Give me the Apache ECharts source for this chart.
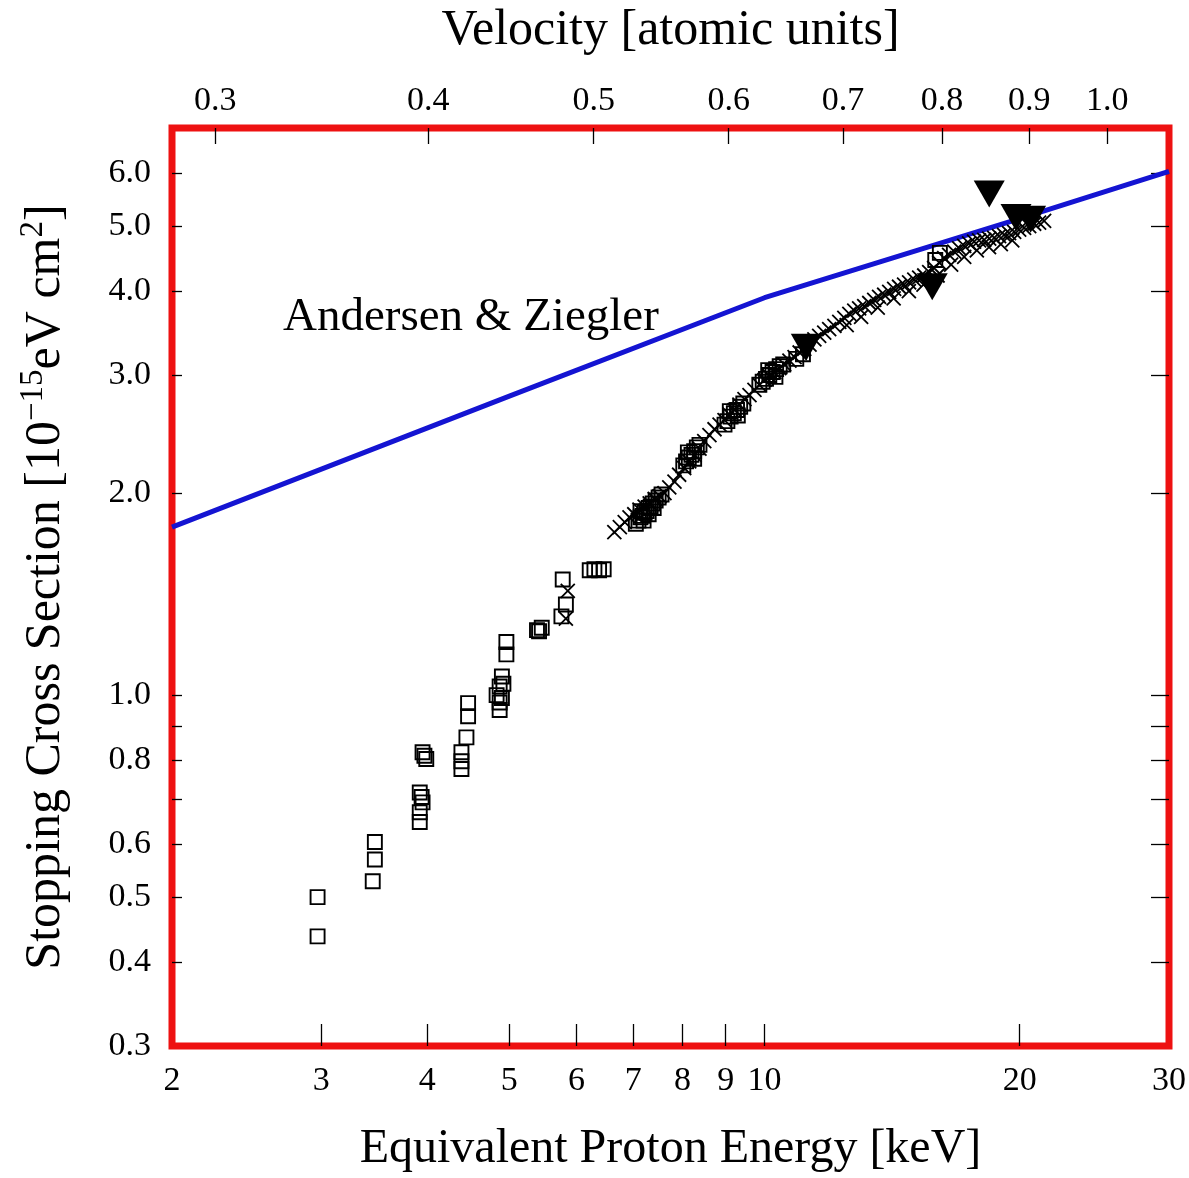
<!DOCTYPE html>
<html><head><meta charset="utf-8">
<script src="https://cdn.jsdelivr.net/npm/echarts@6/dist/echarts.min.js"></script>
<style>html,body{margin:0;padding:0;background:#fff}#c{width:1189px;height:1178px}</style>
</head><body><div id="c"></div>
<script>
// ---- tick / label values ----
const energyTicks = [3, 4, 5, 6, 7, 8, 9, 10, 20];
const energyLabels = [2, 3, 4, 5, 6, 7, 8, 9, 10, 20, 30];
const velocityTicks = [0.3, 0.4, 0.5, 0.6, 0.7, 0.8, 0.9, 1.0];
const sigmaTicks = [0.4, 0.5, 0.6, 0.7, 0.8, 0.9, 1.0, 2, 3, 4, 5, 6];
const sigmaLabels = [0.3, 0.4, 0.5, 0.6, 0.8, 1.0, 2, 3, 4, 5, 6];

// ---- Andersen & Ziegler curve ----
const azEnergy = [2, 5, 10, 20, 30];
const azSigma = [1.78, 2.79, 3.91, 5.13, 6.03];

// ---- measured points: open squares [keV, sigma] ----
const squares = [
  [2.97,0.437],[2.97,0.500],[3.45,0.528],[3.47,0.569],[3.47,0.604],
  [3.95,0.822],[3.99,0.803],[3.97,0.812],[3.92,0.716],[3.94,0.705],[3.95,0.692],[3.92,0.669],[3.92,0.647],
  [4.39,0.822],[4.39,0.797],[4.39,0.776],[4.45,0.865],[4.47,0.973],[4.47,0.930],
  [4.96,1.20],[4.96,1.15],[4.90,1.066],[4.92,1.04],[4.87,1.03],[4.83,1.00],[4.90,0.99],[4.87,0.975],[4.87,0.95],
  [5.39,1.25],[5.46,1.26],[5.42,1.245],
  [5.78,1.487],[5.83,1.365],[5.76,1.31],
  [6.22,1.535],[6.30,1.54],[6.38,1.535],[6.46,1.54],
  [7.05,1.80],[7.10,1.82],[7.14,1.84],[7.18,1.85],[7.22,1.87],[7.26,1.88],[7.30,1.90],[7.34,1.91],
  [7.38,1.93],[7.44,1.95],[7.50,1.97],[7.56,1.99],[7.20,1.82],[7.30,1.86],[7.14,1.88],[7.40,1.90],
  [8.02,2.20],[8.08,2.23],[8.14,2.26],[8.20,2.28],[8.26,2.31],[8.32,2.34],[8.38,2.36],[8.12,2.30],[8.26,2.25],
  [8.97,2.53],[9.04,2.56],[9.12,2.60],[9.20,2.63],[9.28,2.66],[9.36,2.69],[9.44,2.72],[9.10,2.65],[9.30,2.61],
  [9.86,2.90],[9.95,2.93],[10.04,2.96],[10.13,3.00],[10.22,3.03],[10.32,3.06],[10.42,3.09],[10.52,3.11],[10.10,3.05],[10.30,2.98],
  [10.9,3.17],[11.1,3.22],[15.9,4.45],[16.1,4.56]
];

// ---- measured points: crosses ----
const crosses = [
  [5.86,1.43],[5.83,1.30],
  [6.65,1.75],[6.75,1.78],[6.84,1.81],[6.93,1.84],[7.02,1.86],[7.12,1.89],[7.22,1.91],[7.32,1.93],
  [7.42,1.96],[7.52,1.98],[7.62,2.00],[7.72,2.04],[7.83,2.08],[7.93,2.13],[8.04,2.18],[8.15,2.23],
  [8.27,2.28],[8.38,2.33],[8.49,2.39],[8.61,2.44],[8.73,2.49],[8.85,2.53],[8.97,2.57],[9.09,2.62],
  [9.22,2.66],[9.34,2.71],[9.47,2.76],[9.60,2.80],[9.73,2.85],[9.86,2.90],[10.0,2.95],[10.13,2.99],
  [10.27,3.03],[10.41,3.07],[10.55,3.11],[10.70,3.15],[10.85,3.19],[11.0,3.24],[11.14,3.28],[11.3,3.33],
  [11.45,3.39],[11.6,3.43],[11.76,3.47],[11.92,3.51],[12.09,3.55],[12.25,3.60],[12.42,3.65],[12.59,3.70],
  [12.76,3.74],[12.93,3.77],[13.11,3.80],[13.29,3.84],[13.47,3.88],[13.65,3.92],[13.84,3.95],[14.03,3.99],
  [14.22,4.03],[14.41,4.06],[14.61,4.09],[14.81,4.12],[15.02,4.16],[15.22,4.19],[15.43,4.22],[15.64,4.27],
  [15.85,4.33],[16.07,4.41],[16.29,4.48],[16.51,4.53],[16.74,4.58],[16.97,4.63],[17.2,4.67],[17.43,4.71],
  [17.67,4.74],[17.91,4.76],[18.16,4.77],[18.41,4.79],[18.66,4.80],[18.91,4.83],[19.17,4.85],[19.43,4.88],
  [19.7,4.90],[19.97,4.94],[20.24,4.97],[20.52,5.00],[20.8,5.04],[21.08,5.06],[21.37,5.09],
  [12.5,3.56],[13.0,3.66],[13.6,3.78],[14.2,3.90],[14.8,4.00],[15.4,4.09],[16.0,4.22],[16.6,4.38],
  [17.2,4.50],[17.8,4.60],[18.4,4.65],[19.0,4.70],[19.6,4.76]
];

// ---- measured points: filled triangles ----
const triangles = [[11.20,3.30],[15.77,4.06],[18.41,5.58],[19.8,5.15],[20.6,5.12]];

const FONT = 'Liberation Serif';
const toPairs = (xs, ys) => xs.map((x, i) => [x, ys[i]]);

const chart = echarts.init(document.getElementById('c'), null, {renderer: 'canvas'});
chart.setOption({
  animation: false,
  backgroundColor: '#fff',
  grid: {left: 172, right: 19, top: 128, bottom: 131, show: true, borderColor: '#ee1111', borderWidth: 7, backgroundColor: 'transparent'},
  xAxis: [{
    type: 'log', logBase: 10, min: 2, max: 30, position: 'bottom',
    axisLine: {show: false},
    splitLine: {show: false}, minorTick: {show: false},
    axisTick: {show: true, inside: true, length: 22, customValues: energyTicks, lineStyle: {color: '#000', width: 1.3}},
    axisLabel: {customValues: energyLabels, formatter: v => String(Math.round(v)), fontFamily: FONT, fontSize: 34, color: '#000', margin: 18},
    name: 'Equivalent Proton Energy [keV]', nameLocation: 'middle', nameGap: 79,
    nameTextStyle: {fontFamily: FONT, fontSize: 48, color: '#000'}
  }, {
    type: 'log', logBase: 10, min: 0.2830, max: 1.087, position: 'top',
    axisLine: {show: false},
    splitLine: {show: false}, minorTick: {show: false},
    axisTick: {show: true, inside: true, length: 16, customValues: velocityTicks, lineStyle: {color: '#000', width: 1.3}},
    axisLabel: {customValues: velocityTicks, formatter: v => v.toFixed(1), fontFamily: FONT, fontSize: 34, color: '#000', margin: 10},
    name: 'Velocity [atomic units]', nameLocation: 'middle', nameGap: 72,
    nameTextStyle: {fontFamily: FONT, fontSize: 50, color: '#000'}
  }],
  yAxis: [{
    type: 'log', logBase: 10, min: 0.3, max: 7, position: 'left',
    axisLine: {show: false},
    splitLine: {show: false}, minorTick: {show: false},
    axisTick: {show: true, inside: true, length: 10, customValues: sigmaTicks, lineStyle: {color: '#000', width: 1.3}},
    axisLabel: {customValues: sigmaLabels, formatter: v => v.toFixed(1), fontFamily: FONT, fontSize: 34, color: '#000', margin: 21},
    name: 'Stopping Cross Section [10{s|\u221215}eV cm{s|2}]', nameLocation: 'middle', nameGap: 97,
    nameTextStyle: {fontFamily: FONT, fontSize: 50, color: '#000', lineHeight: 58,
      rich: {s: {fontFamily: FONT, fontSize: 33, lineHeight: 30, verticalAlign: 'top', color: '#000'}}}
  }, {
    type: 'log', logBase: 10, min: 0.3, max: 7, position: 'right',
    axisLine: {show: false},
    splitLine: {show: false}, minorTick: {show: false},
    axisTick: {show: true, inside: true, length: 18, customValues: sigmaTicks, lineStyle: {color: '#000', width: 1.3}},
    axisLabel: {show: false}
  }],
  graphic: [{
    type: 'text', x: 283, y: 318,
    style: {text: 'Andersen & Ziegler', fontFamily: FONT, fontSize: 47, fill: '#000', align: 'left', verticalAlign: 'middle'}
  }],
  series: [{
    name: 'Andersen & Ziegler', type: 'line', xAxisIndex: 0, yAxisIndex: 0,
    data: toPairs(azEnergy, azSigma), showSymbol: false, smooth: false, z: 2,
    lineStyle: {color: '#1414d2', width: 5}
  }, {
    type: 'scatter', xAxisIndex: 0, yAxisIndex: 0, data: squares, z: 3,
    symbol: 'rect', symbolSize: 14,
    itemStyle: {color: 'rgba(0,0,0,0)', borderColor: '#000', borderWidth: 1.9, opacity: 1}
  }, {
    type: 'scatter', xAxisIndex: 0, yAxisIndex: 0, data: crosses, z: 4,
    symbol: 'path://M0,0L10,10M10,0L0,10', symbolSize: 14,
    itemStyle: {color: 'rgba(0,0,0,0)', borderColor: '#000', borderWidth: 1.8, opacity: 1}
  }, {
    type: 'scatter', xAxisIndex: 0, yAxisIndex: 0, data: triangles, z: 5,
    symbol: 'triangle', symbolRotate: 180, symbolSize: [31, 27],
    itemStyle: {color: '#000', opacity: 1}
  }]
});
</script></body></html>
